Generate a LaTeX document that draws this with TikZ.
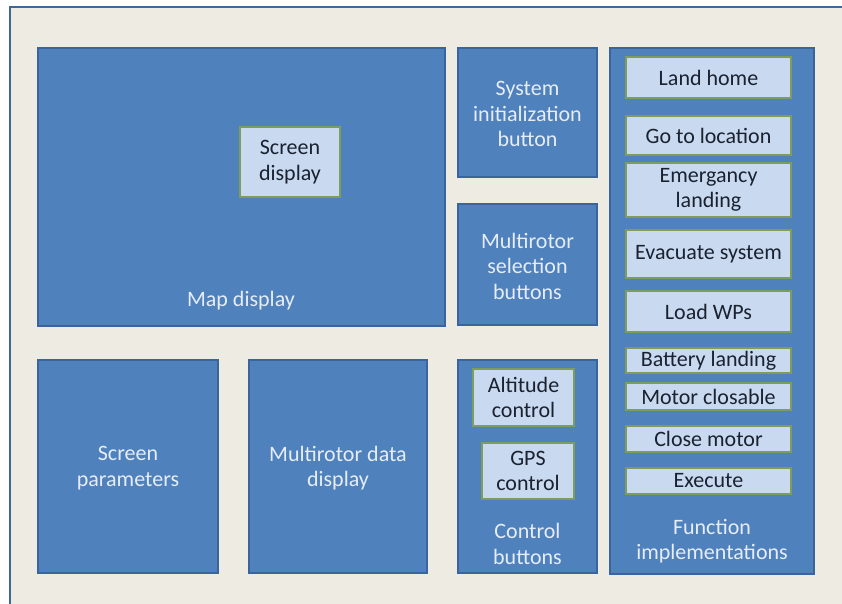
\documentclass[tikz,border=0pt]{standalone}
\usepackage{fontspec}
\setmainfont{Carlito}
\definecolor{panel}{HTML}{EEEBE2}
\definecolor{frameblue}{HTML}{3F6798}
\definecolor{boxblue}{HTML}{4F81BD}
\definecolor{boxedge}{HTML}{3A649C}
\definecolor{subfill}{HTML}{C9DAF0}
\definecolor{subedge}{HTML}{7E9C5A}
\definecolor{lighttext}{HTML}{E6EDF6}
\definecolor{darktext}{HTML}{1A2130}
\tikzset{
  bluebox/.style={draw=boxedge, line width=1.4pt, fill=boxblue, inner sep=0pt, outer sep=0pt},
  subbox/.style={draw=subedge, line width=1.6pt, fill=subfill, inner sep=0pt, outer sep=0pt,
    text=darktext, align=center, font=\fontsize{22}{25.5}\selectfont},
  lbl/.style={text=lighttext, align=center, inner sep=0pt, font=\fontsize{22}{25.5}\selectfont},
}
% place a box by its corner coordinates (pixel units, y downward)
\newcommand{\boxat}[6]{\node[#1, minimum width={(#4)-(#2)}, minimum height={(#5)-(#3)}] (#6) at ({((#2)+(#4))/2},{((#3)+(#5))/2}) }
\begin{document}
\begin{tikzpicture}[x=1pt,y=-1pt]
\useasboundingbox (0,0) rectangle (842,604);
\fill[white] (0,0) rectangle (842,604);
\fill[panel] (10,7) rectangle (842,604);
\draw[frameblue, line width=1.8pt] (10,604) -- (10,7) -- (842,7);

% main blocks
\boxat{bluebox}{38}{48}{445}{326}{map} {};
\boxat{bluebox}{458}{48}{597}{177}{sysinit} {};
\boxat{bluebox}{458}{204}{597}{325}{mrsel} {};
\boxat{bluebox}{610}{48}{814}{574}{func} {};
\boxat{bluebox}{38}{360}{218}{573}{scrpar} {};
\boxat{bluebox}{249}{360}{427}{573}{mrdata} {};
\boxat{bluebox}{458}{360}{597}{573}{ctrl} {};

% block captions
\node[lbl] (maplbl) at (241,301) {Map display};
\node[lbl] (sysinitlbl) at (527.5,114) {System\\initialization\\button};
\node[lbl] (mrsellbl) at (527.5,266) {Multirotor\\selection\\buttons};
\node[lbl] (scrparlbl) at (128,468) {Screen\\parameters};
\node[lbl] (mrdatalbl) at (338,468) {Multirotor data\\display};
\node[lbl] (ctrllbl) at (527.5,544) {Control\\buttons};
\node[lbl] (funclbl) at (712,541) {Function\\implementations};

% inner elements
\boxat{subbox}{240}{127}{340}{197}{scrdisp} {Screen\\display};
\boxat{subbox}{473}{369}{574}{426}{alt} {Altitude\\control};
\boxat{subbox}{482}{443}{574}{499}{gps} {GPS\\control};

\boxat{subbox}{626}{57}{791}{98}{landhome} {Land home};
\boxat{subbox}{626}{116}{791}{155}{goto} {Go to location};
\boxat{subbox}{626}{163}{791}{217}{emerg} {Emergancy\\landing};
\boxat{subbox}{626}{230}{791}{278}{evac} {Evacuate system};
\boxat{subbox}{626}{291}{791}{332}{loadwp} {Load WPs};
\boxat{subbox}{626}{348}{791}{373}{batt} {Battery landing};
\boxat{subbox}{626}{383}{791}{410}{motcl} {Motor closable};
\boxat{subbox}{626}{426}{791}{452}{closemot} {Close motor};
\boxat{subbox}{626}{468}{791}{494}{exec} {Execute};
\end{tikzpicture}
\end{document}
